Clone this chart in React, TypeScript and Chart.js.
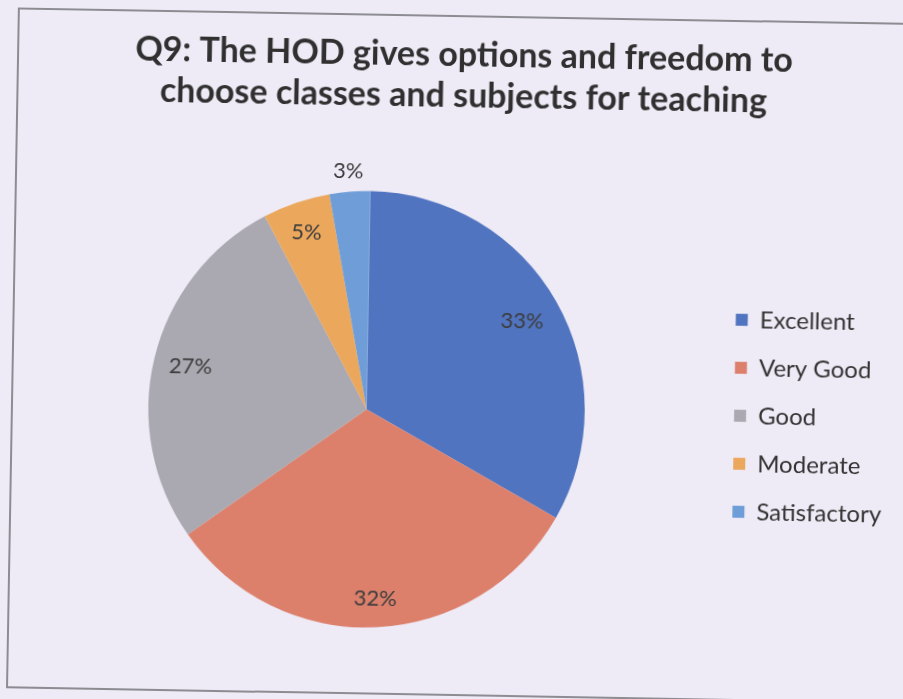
import React, { useEffect, useRef } from "react";
import { Chart, registerables } from "chart.js";

Chart.register(...registerables);

const titleLines = [
  "Q9: The HOD gives options and freedom to",
  "choose classes and subjects for teaching",
];
const categories = ["Excellent", "Very Good", "Good", "Moderate", "Satisfactory"];
const percentages = [33, 32, 27, 5, 3];
const sliceColors = ["#5074c0", "#dc806c", "#aaa8b0", "#eba75c", "#6e9dd8"];

const labelRadialFactors = [0.82, 0.87, 0.83, 0.855, 1.095];

const pctLabels = {
  id: "pctLabels",
  afterDatasetsDraw(chart: any, _args: any, opts: any) {
    const ctx = chart.ctx;
    const meta = chart.getDatasetMeta(0);
    const data = chart.data.datasets[0].data as number[];
    ctx.save();
    ctx.font = opts.font;
    ctx.fillStyle = opts.color;
    ctx.textAlign = "center";
    ctx.textBaseline = "middle";
    meta.data.forEach((arc: any, i: number) => {
      const { x, y, startAngle, endAngle, outerRadius } = arc.getProps(
        ["x", "y", "startAngle", "endAngle", "outerRadius"],
        true
      );
      const mid = (startAngle + endAngle) / 2;
      const r = outerRadius * opts.radial[i];
      ctx.fillText(`${data[i]}%`, x + Math.cos(mid) * r, y + Math.sin(mid) * r);
    });
    ctx.restore();
  },
};

export default function App() {
  const ref = useRef<HTMLCanvasElement | null>(null);
  useEffect(() => {
    if (!ref.current) return;
    const chart = new Chart(ref.current, {
      type: "pie",
      data: {
        labels: categories,
        datasets: [
          {
            data: percentages,
            backgroundColor: sliceColors,
            borderWidth: 0,
          },
        ],
      },
      options: {
        responsive: false,
        animation: false,
        events: [],
        layout: { padding: { top: 20, left: 24, right: 9, bottom: 70 } },
        plugins: {
          title: {
            display: true,
            text: titleLines,
            color: "#303030",
            font: { family: "Lato", size: 34, weight: "bold", lineHeight: 1.2 },
            padding: { top: 15, bottom: 76 },
          },
          legend: {
            position: "right",
            fullSize: false,
            labels: {
              boxWidth: 12,
              boxHeight: 12,
              padding: 24,
              color: "#333333",
              font: { family: "Lato", size: 24 },
            },
          },
          tooltip: { enabled: false },
          pctLabels: {
            font: "22px Lato",
            color: "#3c3c3c",
            radial: labelRadialFactors,
          },
        } as any,
      },
      plugins: [pctLabels],
    });
    return () => chart.destroy();
  }, []);

  return (
    <div
      style={{
        position: "fixed",
        left: 0,
        top: 0,
        width: 903,
        height: 699,
        overflow: "hidden",
        background: "#eeebf6",
      }}
    >
      <div
        style={{
          position: "absolute",
          left: 0,
          top: 0,
          width: 903,
          height: 699,
          transform: "rotate(1deg)",
          transformOrigin: "50% 50%",
        }}
      >
        <div
          style={{
            position: "absolute",
            left: 12,
            top: 15,
            width: 1000,
            height: 681,
            border: "2px solid #8d8c92",
            boxSizing: "border-box",
          }}
        />
        <canvas
          ref={ref}
          width={903}
          height={699}
          style={{ position: "absolute", left: 0, top: 0, width: 903, height: 699 }}
        />
      </div>
    </div>
  );
}
